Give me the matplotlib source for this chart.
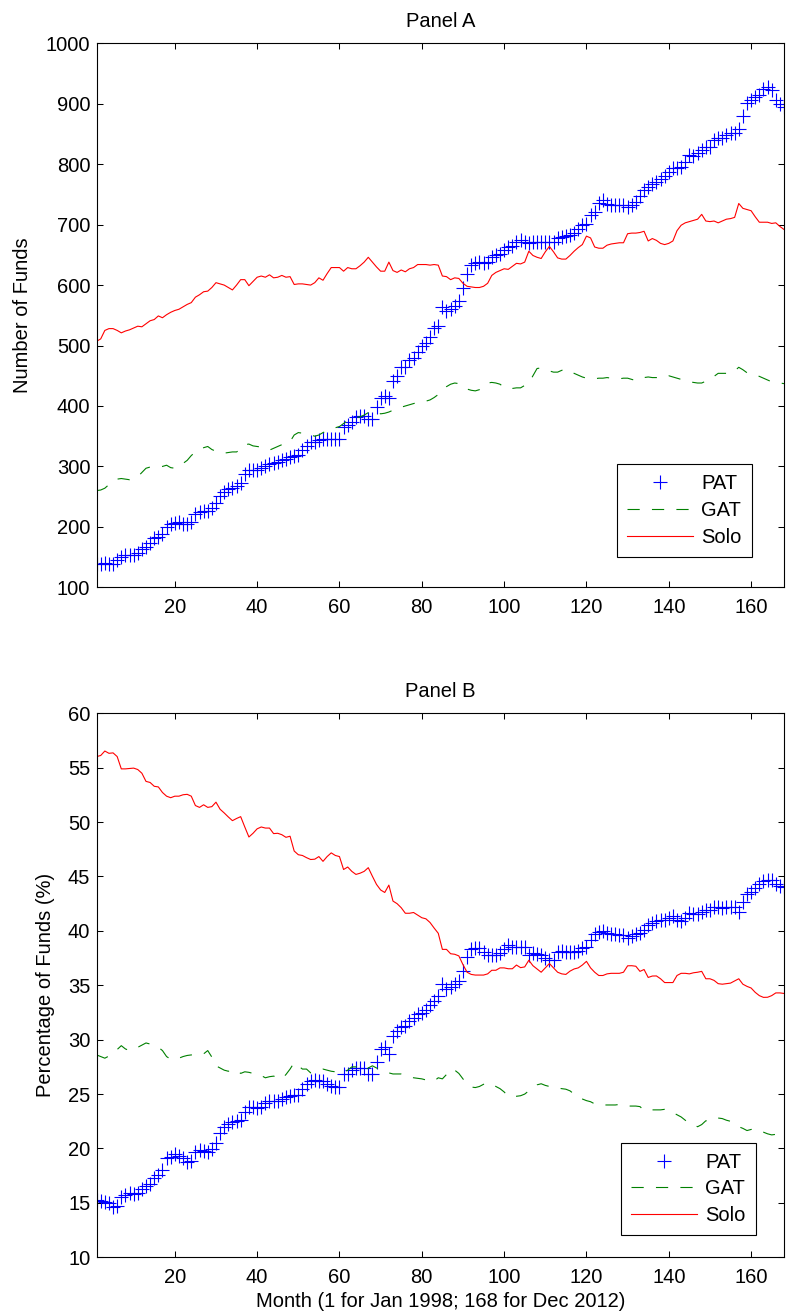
import numpy as np
import matplotlib
matplotlib.use('Agg')
import matplotlib.pyplot as plt

plt.rcParams['font.family'] = ['Liberation Sans', 'DejaVu Sans']

months = np.arange(1, 169)

# Panel A: number of funds
pat_a = [139, 139, 140, 139, 138, 145, 150, 153, 153, 154,
         156, 163, 166, 174, 181, 183, 188, 200, 205, 207,
         208, 205, 204, 208, 222, 225, 226, 226, 231, 239,
         251, 258, 263, 265, 268, 273, 288, 294, 294, 294,
         297, 301, 304, 306, 307, 310, 312, 315, 318, 319,
         327, 334, 340, 341, 344, 345, 345, 346, 346, 346,
         366, 368, 373, 381, 384, 384, 379, 378, 398, 413,
         416, 414, 442, 450, 464, 465, 476, 480, 490, 499,
         505, 514, 529, 532,
         563, 557, 560, 566, 573, 595, 618, 634, 637, 638,
         637, 638, 646, 649, 652, 658, 663, 664, 671, 674,
         671, 669, 671, 672, 672, 672, 672, 671, 678, 680,
         681, 683, 686, 692, 699, 701, 716, 721, 735, 740,
         734, 732, 732, 732, 732, 730, 732, 738, 747, 757,
         762, 767, 771, 776, 781, 787, 793, 793, 796, 803,
         816, 814, 819, 824, 828, 828, 840, 843, 843, 848,
         851, 852, 858, 879, 902, 906, 911, 915, 924, 928,
         923, 907, 900, 894]

gat_a = [260, 261, 264, 270, 275, 279, 280, 279, 278, 280,
         283, 290, 297, 299, 299, 299, 300, 302, 298, 297,
         300, 305, 310, 318, 324, 328, 331, 333, 328, 325,
         323, 322, 323, 324, 324, 328, 336, 337, 334, 333,
         332, 330, 327, 330, 333, 336, 338, 341, 352, 356,
         355, 354, 352, 350, 352, 356, 359, 362, 364, 366,
         371, 376, 379, 381, 382, 385, 389, 392, 390, 387,
         388, 390, 393, 396, 398, 400, 402, 404, 406, 407,
         408, 410, 414, 419,
         424, 432, 436, 438, 437, 431, 428, 426, 425, 427,
         432, 438, 439, 438, 436, 431, 428, 429, 430, 430,
         434, 438, 450, 462, 463, 461, 458, 456, 456, 459,
         461, 458, 454, 451, 448, 446, 446, 445, 446, 446,
         447, 446, 446, 445, 446, 446, 444, 442, 444, 447,
         448, 447, 447, 446, 449, 450, 448, 446, 444, 442,
         440, 439, 438, 438, 441, 444, 449, 454, 454, 454,
         454, 458, 464, 460, 455, 453, 451, 449, 446, 443,
         440, 439, 438, 437]

solo_a = [507, 511, 525, 528, 528, 525, 521, 524, 526, 529,
          532, 531, 536, 541, 543, 549, 546, 551, 555, 558,
          560, 564, 568, 571, 580, 584, 589, 590, 596, 604,
          602, 600, 596, 592, 600, 609, 609, 599, 606, 613,
          615, 613, 617, 612, 613, 616, 613, 614, 601, 602,
          602, 601, 600, 604, 612, 608, 619, 629, 629, 629,
          623, 629, 627, 627, 632, 638, 646, 638, 630, 623,
          623, 638, 624, 621, 625, 622, 627, 629, 634, 634,
          634, 633, 634, 633,
          615, 614, 609, 612, 611, 603, 598, 597, 596, 596,
          598, 603, 616, 621, 624, 627, 626, 631, 636, 635,
          638, 656, 649, 646, 644, 655, 664, 655, 645, 643,
          643, 649, 656, 662, 667, 681, 678, 663, 661, 661,
          666, 668, 669, 670, 670, 685, 686, 686, 687, 689,
          673, 677, 674, 669, 667, 669, 673, 690, 699, 703,
          705, 707, 709, 717, 706, 705, 706, 703, 706, 709,
          710, 712, 735, 727, 725, 723, 713, 704, 704, 704,
          702, 703, 697, 692]

# Panel B: percentage of funds
pat_b = [15.28, 15.17, 15.11, 15.00, 14.60, 14.73, 15.51, 15.75, 15.92, 15.85,
         15.92, 16.30, 16.53, 16.77, 17.32, 17.56, 18.00, 19.09, 19.26, 19.50,
         19.33, 19.09, 18.75, 18.85, 19.70, 19.84, 19.77, 19.70, 19.94, 20.52,
         21.40, 21.98, 22.22, 22.42, 22.49, 22.66, 23.34, 23.85, 23.85, 23.68,
         23.85, 24.19, 24.36, 24.36, 24.36, 24.53, 24.70, 24.81, 24.94, 24.94,
         25.49, 25.90, 26.24, 26.34, 26.24, 26.17, 25.90, 25.73, 25.62, 25.62,
         26.85, 26.85, 27.19, 27.43, 27.43, 27.43, 26.85, 26.85, 27.94, 29.13,
         29.37, 28.72, 30.32, 30.76, 31.17, 31.27, 31.68, 31.95, 32.36, 32.43,
         32.70, 33.21, 33.55, 34.06,
         35.09, 34.68, 34.85, 35.09, 35.36, 36.34, 37.64, 38.32, 38.42, 38.42,
         38.08, 37.81, 37.81, 37.81, 37.98, 38.32, 38.66, 38.56, 38.56, 38.56,
         38.56, 37.81, 37.98, 37.88, 37.74, 37.47, 37.30, 37.30, 38.08, 38.15,
         38.05, 38.08, 38.08, 38.15, 38.42, 38.56, 39.17, 39.68, 39.92, 40.02,
         39.78, 39.68, 39.68, 39.58, 39.58, 39.34, 39.51, 39.68, 39.85, 40.12,
         40.53, 40.70, 40.87, 41.04, 41.04, 41.21, 41.38, 41.04, 40.94, 41.21,
         41.62, 41.55, 41.55, 41.72, 41.89, 41.96, 42.16, 42.16, 42.06, 42.16,
         42.23, 42.16, 41.72, 42.64, 43.42, 43.53, 43.93, 44.27, 44.55, 44.68,
         44.72, 44.34, 44.10, 44.00]

gat_b = [28.6, 28.45, 28.3, 28.5, 28.8, 29.1, 29.45, 29.15, 29.0, 29.1,
         29.3, 29.5, 29.7, 29.6, 29.4, 29.3, 29.0, 28.45, 28.2, 28.2,
         28.3, 28.45, 28.55, 28.6, 28.55, 28.6, 28.7, 29.0, 28.4, 27.6,
         27.4, 27.2, 27.1, 27.2, 27.25, 26.9, 27.05, 27.0, 26.9, 26.9,
         26.7, 26.5, 26.6, 26.65, 26.55, 26.4, 26.8, 27.3, 27.9, 27.6,
         27.3, 27.3, 26.95, 27.1, 27.2, 27.3, 27.2, 27.1, 27.05, 27.0,
         26.95, 27.2, 27.5, 27.5, 27.4, 27.1, 27.4, 27.6, 27.4, 27.25,
         27.1, 26.95, 26.85, 26.85, 26.85, 26.75, 26.65, 26.5, 26.45, 26.4,
         26.3, 26.2, 26.2, 26.5,
         26.4, 26.8, 27.3, 27.2, 26.9, 26.4, 25.9, 25.65, 25.6, 25.7,
         25.9, 26.05, 25.9, 25.7, 25.5, 25.2, 24.8, 24.8, 24.8, 24.85,
         25.0, 25.3, 25.5, 25.85, 25.95, 25.8, 25.7, 25.6, 25.55, 25.5,
         25.45, 25.3, 25.0, 24.7, 24.55, 24.4, 24.3, 24.1, 24.0, 24.0,
         24.0, 24.0, 24.0, 24.05, 24.0, 23.9, 23.9, 23.9, 23.85, 23.5,
         23.55, 23.55, 23.55, 23.55, 23.6, 23.55, 23.3, 23.1, 22.9, 22.6,
         22.3, 22.2, 22.0, 22.2, 22.55, 22.5, 22.7, 22.8, 22.75, 22.6,
         22.5, 22.3, 22.0, 21.85, 21.65, 21.75, 21.8, 21.6, 21.5, 21.35,
         21.25, 21.3, 21.45, 21.55]

solo_b = [56.02, 56.12, 56.53, 56.32, 56.36, 56.02, 54.89, 54.89, 54.93, 54.96,
          54.83, 54.49, 53.74, 53.64, 53.29, 53.23, 52.72, 52.38, 52.24, 52.38,
          52.38, 52.51, 52.55, 52.38, 51.52, 51.35, 51.59, 51.35, 51.42, 51.83,
          51.18, 50.84, 50.47, 50.13, 50.33, 50.50, 49.55, 48.63, 48.97, 49.38,
          49.55, 49.45, 49.45, 48.94, 48.97, 48.84, 48.60, 48.70, 47.34, 47.00,
          46.93, 46.73, 46.56, 46.59, 46.83, 46.39, 46.83, 47.17, 46.93, 46.83,
          45.64, 45.87, 45.47, 45.19, 45.30, 45.47, 45.81, 45.02, 44.27, 43.76,
          43.53, 44.21, 42.74, 42.50, 42.13, 41.62, 41.62, 41.69, 41.45, 41.21,
          41.11, 40.77, 40.26, 39.78,
          38.3, 38.3, 37.9, 37.85, 37.7, 36.9, 36.2, 36.0, 35.94, 35.94,
          35.94, 36.05, 36.38, 36.38, 36.6, 36.6, 36.52, 36.52, 36.86, 36.62,
          36.69, 37.30, 36.8, 36.5, 36.2, 36.6, 37.0, 36.6, 36.2, 36.05,
          36.0, 36.3, 36.5, 36.6, 36.86, 37.2, 36.6, 36.2, 35.9, 35.9,
          36.05, 36.1, 36.1, 36.1, 36.2, 36.79, 36.8, 36.75, 36.28, 36.45,
          35.72, 35.85, 35.86, 35.60, 35.25, 35.25, 35.25, 35.9, 36.1, 36.1,
          36.05, 36.15, 36.2, 36.28, 35.6, 35.6, 35.45, 35.15, 35.1, 35.15,
          35.2, 35.4, 35.6, 35.1, 34.9, 34.75, 34.35, 34.05, 33.89, 33.9,
          34.05, 34.3, 34.3, 34.25]

FS = 14.5

fig = plt.figure(figsize=(7.86, 13.16), dpi=100)
ax_a = fig.add_axes([0.1229, 0.5537, 0.8746, 0.4134])
ax_b = fig.add_axes([0.1229, 0.0446, 0.8746, 0.4134])


def draw_panel(ax, pat, gat, solo, title, ylabel, ylim, yticks, leg_anchor):
    ax.plot(months, pat, linestyle='none', marker='+', markersize=9.5,
            markeredgewidth=0.8, color=(0, 0, 1), label='PAT')
    ax.plot(months, gat, color=(0, 0.5, 0), linewidth=0.8,
            dashes=(11, 11), label='GAT')
    ax.plot(months, solo, color=(1, 0, 0), linewidth=0.8, label='Solo')
    ax.set_xlim(1, 168)
    ax.set_ylim(*ylim)
    ax.set_xticks(range(20, 161, 20))
    ax.set_yticks(yticks)
    ax.tick_params(direction='in', top=True, right=True, length=4.5,
                   width=0.75, labelsize=FS)
    ax.tick_params(axis='x', pad=8)
    ax.tick_params(axis='y', pad=4.5)
    for s in ax.spines.values():
        s.set_linewidth(0.8)
    ax.set_title(title, fontsize=FS, pad=11.5)
    ax.set_ylabel(ylabel, fontsize=FS)
    leg = ax.legend(loc='lower right', bbox_to_anchor=leg_anchor,
                    borderaxespad=0, fontsize=FS, numpoints=1,
                    fancybox=False, framealpha=1, edgecolor='black',
                    handlelength=3.3, handletextpad=0.4, borderpad=0.5,
                    labelspacing=0.38)
    leg.get_frame().set_linewidth(0.8)


draw_panel(ax_a, pat_a, gat_a, solo_a, 'Panel A', 'Number of Funds',
           (100, 1000), range(100, 1001, 100), (0.953, 0.056))
draw_panel(ax_b, pat_b, gat_b, solo_b, 'Panel B', 'Percentage of Funds (%)',
           (10, 60), range(10, 61, 5), (0.959, 0.041))

ax_a.yaxis.set_label_coords(-0.094, 0.5)
ax_b.yaxis.set_label_coords(-0.061, 0.5)
ax_b.set_xlabel('Month (1 for Jan 1998; 168 for Dec 2012)', fontsize=FS,
                labelpad=3)

fig.savefig('out.png', dpi=100)
